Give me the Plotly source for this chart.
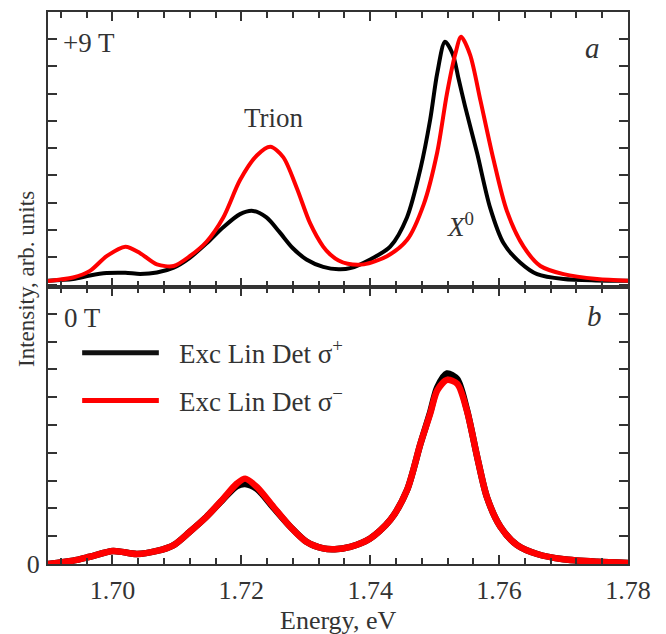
import plotly.graph_objects as go

# ---- data ----
# Panel a: +9 T
a_black_x = [1.6900, 1.6939, 1.6965, 1.6991, 1.7020, 1.7043, 1.7069, 1.7095, 1.7120, 1.7146,
             1.7172, 1.7198, 1.7218, 1.7239, 1.7259, 1.7280, 1.7301, 1.7327, 1.7351, 1.7369,
             1.7400, 1.7431, 1.7457, 1.7478, 1.7493, 1.7504, 1.7516, 1.7528, 1.7537, 1.7547,
             1.7566, 1.7586, 1.7607, 1.7633, 1.7659, 1.7700, 1.7750, 1.7800]
a_black_y = [0.14, 0.20, 0.33, 0.42, 0.43, 0.39, 0.44, 0.62, 0.98, 1.51,
             2.10, 2.58, 2.70, 2.46, 1.93, 1.33, 0.92, 0.65, 0.56, 0.60,
             0.92, 1.39, 2.46, 4.25, 6.04, 7.75, 8.90, 8.45, 7.55, 6.55,
             4.80, 2.82, 1.51, 0.80, 0.38, 0.20, 0.15, 0.14]

a_red_x = [1.6900, 1.6939, 1.6965, 1.6991, 1.7020, 1.7043, 1.7069, 1.7095, 1.7120, 1.7146,
           1.7172, 1.7198, 1.7224, 1.7245, 1.7265, 1.7286, 1.7307, 1.7327, 1.7338, 1.7351,
           1.7365, 1.7390, 1.7426, 1.7457, 1.7483, 1.7504, 1.7519, 1.7532, 1.7541, 1.7555,
           1.7571, 1.7591, 1.7612, 1.7638, 1.7664, 1.7700, 1.7752, 1.7800]
a_red_y = [0.13, 0.26, 0.50, 1.04, 1.39, 1.15, 0.74, 0.68, 1.04, 1.57,
           2.46, 3.83, 4.73, 5.05, 4.67, 3.54, 2.23, 1.39, 1.10, 0.88,
           0.76, 0.74, 1.04, 1.63, 2.94, 4.85, 6.99, 8.45, 9.08, 8.42,
           6.75, 4.61, 2.70, 1.39, 0.68, 0.38, 0.20, 0.14]

# Panel b: 0 T
b_x = [1.6900, 1.6939, 1.6965, 1.7001, 1.7038, 1.7069, 1.7095, 1.7120, 1.7146, 1.7172,
       1.7193, 1.7206, 1.7224, 1.7250, 1.7276, 1.7301, 1.7327, 1.7345, 1.7369, 1.7400,
       1.7431, 1.7457, 1.7478, 1.7493, 1.7504, 1.7519, 1.7535, 1.7550, 1.7566, 1.7581,
       1.7602, 1.7628, 1.7659, 1.7700, 1.7752, 1.7800]
b_black_y = [0.00, 0.12, 0.26, 0.47, 0.36, 0.47, 0.68, 1.16, 1.70, 2.33,
             2.80, 2.88, 2.70, 2.02, 1.34, 0.80, 0.56, 0.53, 0.62, 0.92,
             1.58, 2.65, 4.33, 5.45, 6.35, 6.85, 6.65, 5.55, 3.85, 2.41,
             1.34, 0.68, 0.36, 0.17, 0.08, 0.04]
b_red_y = [0.00, 0.12, 0.26, 0.47, 0.36, 0.47, 0.68, 1.16, 1.70, 2.35,
           2.89, 3.07, 2.77, 2.05, 1.34, 0.80, 0.56, 0.53, 0.62, 0.92,
           1.58, 2.65, 4.33, 5.40, 6.24, 6.62, 6.48, 5.52, 3.85, 2.41,
           1.34, 0.68, 0.36, 0.17, 0.08, 0.04]

x_ticks = [1.70, 1.72, 1.74, 1.76, 1.78]
x_tick_labels = ["1.70", "1.72", "1.74", "1.76", "1.78"]
y_ticks = list(range(0, 10))
series_names = ["Exc Lin Det σ<sup>+</sup>", "Exc Lin Det σ<sup>−</sup>"]

FONT = "Liberation Serif"
TXT = "#333333"
AX = "#333333"

fig = go.Figure()
fig.add_trace(go.Scatter(x=a_black_x, y=a_black_y, mode="lines", xaxis="x", yaxis="y",
                         line=dict(color="#000000", width=4, shape="spline", smoothing=0.8),
                         showlegend=False))
fig.add_trace(go.Scatter(x=a_red_x, y=a_red_y, mode="lines", xaxis="x", yaxis="y",
                         line=dict(color="#ff0000", width=4, shape="spline", smoothing=0.8),
                         showlegend=False))
fig.add_trace(go.Scatter(x=b_x, y=b_black_y, mode="lines", xaxis="x2", yaxis="y2",
                         line=dict(color="#000000", width=6.5, shape="spline", smoothing=0.8),
                         showlegend=False))
fig.add_trace(go.Scatter(x=b_x, y=b_red_y, mode="lines", xaxis="x2", yaxis="y2",
                         line=dict(color="#ff0000", width=6.5, shape="spline", smoothing=0.8),
                         showlegend=False))

split = 0.5018
xcommon = dict(range=[1.69, 1.78], tickmode="array", tickvals=x_ticks,
               ticks="inside", ticklen=9, tickwidth=1.5, tickcolor=AX,
               showline=True, linecolor=AX, linewidth=2, mirror="allticks",
               showgrid=False, zeroline=False,
               minor=dict(tick0=1.70, dtick=0.004, ticks="inside", ticklen=6,
                          tickwidth=1.5, tickcolor=AX, showgrid=False),
               tickfont=dict(family=FONT, size=26, color=TXT))
ycommon = dict(tickmode="array", tickvals=y_ticks,
               ticks="inside", ticklen=9, tickwidth=1.5, tickcolor=AX,
               showline=True, linecolor=AX, linewidth=2, mirror="allticks",
               showgrid=False, zeroline=False,
               tickfont=dict(family=FONT, size=26, color=TXT))

fig.update_layout(
    width=666, height=634,
    margin=dict(l=40, r=46, t=2, b=78),
    paper_bgcolor="white", plot_bgcolor="white",
    xaxis=dict(**xcommon, anchor="y", showticklabels=False, matches="x2"),
    yaxis=dict(**ycommon, domain=[split, 1], range=[-0.09, 9.99], showticklabels=False),
    xaxis2=dict(**xcommon, anchor="y2", ticktext=x_tick_labels, ticklabelstandoff=2),
    yaxis2=dict(**ycommon, domain=[0, split], range=[0, 9.96],
                ticktext=["0"] + [""] * 9, ticklabelstandoff=1),
    showlegend=False,
)

ann = []
def A(text, x, y, xref, yref, size=27, italic=False, xanchor="left", yanchor="middle", **kw):
    if italic:
        text = "<i>" + text + "</i>"
    ann.append(dict(text=text, x=x, y=y, xref=xref, yref=yref, showarrow=False,
                    xanchor=xanchor, yanchor=yanchor,
                    font=dict(family=FONT, size=size, color=TXT), **kw))

A("+9 T", 1.6920, 8.84, "x", "y")
A("a", 1.7745, 8.66, "x", "y", size=29, italic=True, xanchor="center")
A("Trion", 1.7251, 6.11, "x", "y", xanchor="center")
A("<i>X</i><sup>0</sup>", 1.7540, 2.2, "x", "y", xanchor="center")
A("0 T", 1.6921, 8.85, "x2", "y2")
A("b", 1.7748, 8.92, "x2", "y2", size=29, italic=True, xanchor="center")
A(series_names[0], 1.7100, 7.62, "x2", "y2", size=27)
A(series_names[1], 1.7100, 5.90, "x2", "y2", size=27)
A("Energy, eV", 0.5, 0, "paper", "paper", size=26, xanchor="center", yanchor="middle", yshift=-56)
A("Intensity, arb. units", 0, 0.5, "paper", "paper", size=23, xanchor="center",
  yanchor="middle", xshift=-22, yshift=9, textangle=-90)
fig.update_layout(annotations=ann)

fig.update_layout(shapes=[
    dict(type="line", xref="x2", yref="y2", x0=1.6953, x1=1.7072, y0=7.6, y1=7.6,
         line=dict(color="#111111", width=5)),
    dict(type="line", xref="x2", yref="y2", x0=1.6953, x1=1.7072, y0=5.88, y1=5.88,
         line=dict(color="#ff0000", width=5)),
])

fig.write_html("out.html")
